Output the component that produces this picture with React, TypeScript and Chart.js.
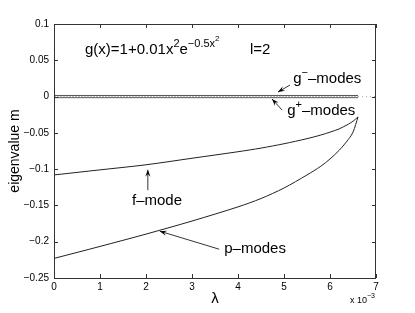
import React, { useEffect, useRef } from "react";
import { Chart, registerables } from "chart.js";

Chart.register(...registerables);

// λ in units of 10^-3
const lambdaE3 = [0, 1, 2, 3, 4, 4.5, 5, 5.5, 5.8, 6, 6.2, 6.4, 6.5, 6.61];
const fMode = [-0.108, -0.101, -0.094, -0.085, -0.076, -0.071, -0.065, -0.058, -0.053, -0.049, -0.0445, -0.038, -0.034, -0.028];
const pModes = [-0.223, -0.2065, -0.1895, -0.1715, -0.152, -0.1405, -0.126, -0.108, -0.096, -0.086, -0.074, -0.059, -0.049, -0.028];
const gLambda = [0, 6.61];
const gMinus = [0.0015, 0.0015];
const gPlus = [-0.0015, -0.0015];
const gMid = [0, 0];
const gTailLambda = [6.61, 7];
const gTail = [0, 0];

const xTicks = [0, 1, 2, 3, 4, 5, 6, 7];
const xTickLabels = ["0", "1", "2", "3", "4", "5", "6", "7"];
const yTicks = [-0.25, -0.2, -0.15, -0.1, -0.05, 0, 0.05, 0.1];
const yTickLabels = ["\u22120.25", "\u22120.2", "\u22120.15", "\u22120.1", "\u22120.05", "0", "0.05", "0.1"];

const FONT = "'Liberation Sans', Arial, Helvetica, sans-serif";

const pts = (xs: number[], ys: number[]) => xs.map((x, i) => ({ x, y: ys[i] }));

function arrow(ctx: CanvasRenderingContext2D, x1: number, y1: number, x2: number, y2: number) {
  ctx.save();
  ctx.strokeStyle = "#000";
  ctx.fillStyle = "#000";
  ctx.lineWidth = 0.8;
  ctx.beginPath();
  ctx.moveTo(x1, y1);
  ctx.lineTo(x2, y2);
  ctx.stroke();
  const a = Math.atan2(y2 - y1, x2 - x1);
  const L = 7, W = 2.6;
  ctx.beginPath();
  ctx.moveTo(x2, y2);
  ctx.lineTo(x2 - L * Math.cos(a) + W * Math.sin(a), y2 - L * Math.sin(a) - W * Math.cos(a));
  ctx.lineTo(x2 - 0.6 * L * Math.cos(a), y2 - 0.6 * L * Math.sin(a));
  ctx.lineTo(x2 - L * Math.cos(a) - W * Math.sin(a), y2 - L * Math.sin(a) + W * Math.cos(a));
  ctx.closePath();
  ctx.fill();
  ctx.restore();
}

const framePlugin = {
  id: "frame",
  afterDraw(chart: any) {
    const { ctx, chartArea: ca, scales } = chart;
    const xs = scales.x, ys = scales.y;
    const X = (v: number) => xs.getPixelForValue(v);
    const Y = (v: number) => ys.getPixelForValue(v);
    ctx.save();
    // frame
    ctx.strokeStyle = "#333";
    ctx.lineWidth = 1;
    ctx.strokeRect(Math.round(ca.left) + 0.5, Math.round(ca.top) + 0.5, Math.round(ca.right - ca.left) - 1, Math.round(ca.bottom - ca.top));
    // inward ticks
    const TL = 4;
    ctx.beginPath();
    xTicks.forEach((t) => {
      const px = Math.round(X(t)) + 0.5;
      ctx.moveTo(px, ca.bottom);
      ctx.lineTo(px, ca.bottom - TL);
      ctx.moveTo(px, ca.top);
      ctx.lineTo(px, ca.top + TL);
    });
    yTicks.forEach((t) => {
      const py = Math.round(Y(t)) + 0.5;
      ctx.moveTo(ca.left, py);
      ctx.lineTo(ca.left + TL, py);
      ctx.moveTo(ca.right, py);
      ctx.lineTo(ca.right - TL, py);
    });
    ctx.stroke();

    // texts
    ctx.fillStyle = "#000";
    ctx.textBaseline = "alphabetic";
    const big = `15px ${FONT}`;
    const sup = `11px ${FONT}`;
    const sup2 = `8px ${FONT}`;
    // formula
    let fx = X(0.674), fy = Y(0.0586);
    const seg = (t: string, font: string, dy: number) => {
      ctx.font = font;
      ctx.fillText(t, fx, fy + dy);
      fx += ctx.measureText(t).width;
    };
    seg("g(x)=1+0.01x", big, 0);
    seg("2", sup, -7);
    seg("e", big, 0);
    seg("\u22120.5x", sup, -7);
    seg("2", sup2, -13);
    ctx.font = big;
    ctx.fillText("l=2", X(4.26), Y(0.0586));

    // g- modes
    fx = X(5.2); fy = Y(0.0186);
    seg("g", big, 0);
    seg("\u2212", sup, -7);
    seg("\u2013modes", big, 0);
    arrow(ctx, X(5.13), Y(0.0159), X(4.87), Y(0.0062));
    // g+ modes
    fx = X(5.07); fy = Y(-0.0255);
    seg("g", big, 0);
    seg("+", sup, -7);
    seg("\u2013modes", big, 0);
    arrow(ctx, X(4.96), Y(-0.0186), X(4.74), Y(-0.0034));

    // f-mode
    ctx.font = big;
    ctx.textAlign = "center";
    ctx.fillText("f\u2013mode", X(2.24), Y(-0.1497));
    arrow(ctx, X(2.04), Y(-0.129), X(2.04), Y(-0.101));
    // p-modes
    ctx.textAlign = "left";
    ctx.fillText("p\u2013modes", X(3.7), Y(-0.2159));
    arrow(ctx, X(3.59), Y(-0.2103), X(2.3), Y(-0.1855));

    // exponent label
    ctx.font = `9px ${FONT}`;
    ctx.textAlign = "left";
    const ex = ca.right - 26, ey = ca.bottom + 25;
    ctx.fillText("x 10", ex, ey);
    const w = ctx.measureText("x 10").width;
    ctx.font = `7px ${FONT}`;
    ctx.fillText("\u22123", ex + w, ey - 5);
    ctx.restore();
  },
};

export default function App() {
  const ref = useRef<HTMLCanvasElement | null>(null);
  useEffect(() => {
    if (!ref.current) return;
    const chart = new Chart(ref.current, {
      type: "scatter",
      data: {
        datasets: [
          { data: pts(gLambda, gMid), showLine: true, borderColor: "#bbb", borderWidth: 1, borderDash: [2, 1], pointRadius: 0 },
          { data: pts(gLambda, gMinus), showLine: true, borderColor: "#555", borderWidth: 1, pointRadius: 0 },
          { data: pts(gLambda, gPlus), showLine: true, borderColor: "#555", borderWidth: 1, pointRadius: 0 },
          { data: pts(gTailLambda, gTail), showLine: true, borderColor: "#aaa", borderWidth: 1, borderDash: [1, 3], pointRadius: 0 },
          { data: pts(lambdaE3, fMode), showLine: true, borderColor: "#222", borderWidth: 1, pointRadius: 0, tension: 0.3 },
          { data: pts(lambdaE3, pModes), showLine: true, borderColor: "#222", borderWidth: 1, pointRadius: 0, tension: 0.3 },
        ] as any,
      },
      options: {
        animation: false,
        responsive: false,
        layout: { padding: { left: 0, top: 24, right: 39, bottom: 0 } },
        plugins: { legend: { display: false }, tooltip: { enabled: false } },
        scales: {
          x: {
            type: "linear",
            min: 0,
            max: 7,
            afterFit: (s: any) => { s.height = 35; },
            afterBuildTicks: (s: any) => { s.ticks = xTicks.map((v) => ({ value: v })); },
            grid: { display: false, drawTicks: false },
            border: { display: false },
            ticks: {
              color: "#000",
              padding: 3,
              font: { family: FONT, size: 10 },
              maxRotation: 0,
              callback: (v: any) => xTickLabels[xTicks.indexOf(Number(v))] ?? "",
            },
            title: { display: true, text: "\u03bb", color: "#000", font: { family: FONT, size: 15 }, padding: { top: 0, bottom: 5 } },
          },
          y: {
            type: "linear",
            min: -0.25,
            max: 0.1,
            afterFit: (s: any) => { s.width = 54; },
            afterBuildTicks: (s: any) => { s.ticks = yTicks.map((v) => ({ value: v })); },
            grid: { display: false, drawTicks: false },
            border: { display: false },
            ticks: {
              color: "#000",
              padding: 5,
              font: { family: FONT, size: 10 },
              callback: (v: any) => {
                const i = yTicks.findIndex((t) => Math.abs(t - Number(v)) < 1e-9);
                return i >= 0 ? yTickLabels[i] : "";
              },
            },
            title: { display: true, text: "eigenvalue m", color: "#000", font: { family: FONT, size: 14 }, padding: { top: 7, bottom: 0 } },
          },
        },
      },
      plugins: [framePlugin],
    });
    return () => chart.destroy();
  }, []);
  return (
    <div style={{ position: "fixed", left: 0, top: 0, width: 415, height: 313, background: "#fff" }}>
      <canvas ref={ref} width={415} height={313} style={{ display: "block", width: 415, height: 313 }} />
    </div>
  );
}
